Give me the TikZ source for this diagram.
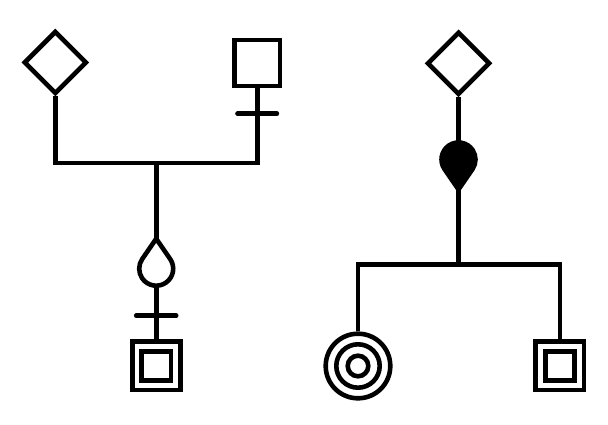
\documentclass[tikz,border=0pt]{standalone}
\usetikzlibrary{shapes.geometric,calc}

\tikzset{
  sym/.style={draw, inner sep=0pt},
  kite/.style={sym, diamond, minimum size=63pt},
  box/.style={sym, rectangle, minimum size=45.8pt},
  dbox/.style={sym, rectangle, line width=4.8pt, double, double distance=4.6pt, outer sep=7.1pt, minimum size=38.8pt},
  ring/.style={sym, circle},
  tick/.style={line cap=round},
  teardrop/.pic={
    \draw[pic actions] (0,30) -- (34.5:17) arc[start angle=34.5, end angle=-214.5, radius=17] -- cycle;
  },
}

\begin{document}
\begin{tikzpicture}[x=1pt, y=1pt, line width=4.6pt]
\useasboundingbox (0,0) rectangle (608,424);

% left family
\node[kite] (D1) at (55.3,361.5) {};
\node[box] (S1) at (257.2,361) {};
\coordinate (bar1) at (156.2,261);
\node[dbox] (C1) at (156.2,58.2) {};
\draw (D1.south) |- (bar1) -| (S1.south);
\draw (bar1) -- (C1.north);
\draw[tick] (257.2,310.3) ++(-19.7,0) -- ++(39.4,0);
\draw[tick] (156.2,108.3) ++(-20,0) -- ++(40,0);
\pic[fill=white] at (156.2,155.3) {teardrop};

% right family
\node[kite] (D2) at (458.5,360.7) {};
\coordinate (bar2) at (458.5,159.3);
\node[ring, minimum size=64.6pt] (G1) at (358,58) {};
\node[ring, minimum size=43.4pt] at (G1.center) {};
\node[ring, minimum size=20.6pt] at (G1.center) {};
\node[dbox] (C2) at (559.8,58.2) {};
\draw (D2.south) -- (bar2);
\draw (G1.north) |- (bar2) -| (C2.north);
\pic[rotate=180, fill=black] at (458.5,264.5) {teardrop};
\end{tikzpicture}
\end{document}
